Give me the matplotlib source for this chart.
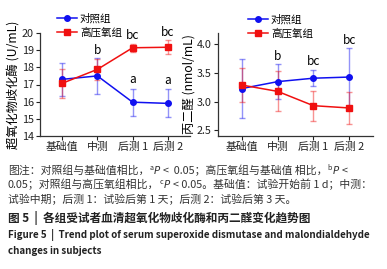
import matplotlib
matplotlib.use('Agg')
import matplotlib.pyplot as plt

plt.rcParams['font.family'] = ['Noto Sans CJK SC', 'DejaVu Sans']

# time points
stages = ['基础值', '中测', '后测 1', '后测 2']

# SOD (U/mL)
sod_ctrl = [17.3, 17.5, 15.97, 15.9]
sod_ctrl_err = [0.95, 1.05, 0.78, 0.81]
sod_hbo = [17.07, 17.88, 19.14, 19.17]
sod_hbo_err = [0.86, 0.63, 0.23, 0.4]
sod_marks_hbo = ['', 'b', 'bc', 'bc']
sod_marks_ctrl = ['', '', 'a', 'a']

# MDA (nmol/mL)
mda_ctrl = [3.23, 3.35, 3.41, 3.43]
mda_ctrl_err = [0.52, 0.3, 0.14, 0.5]
mda_hbo = [3.29, 3.18, 2.93, 2.89]
mda_hbo_err = [0.3, 0.35, 0.26, 0.28]
mda_marks = ['', 'b', 'bc', 'bc']

BLUE = '#1010f0'
RED = '#f01010'

fig = plt.figure(figsize=(3.87, 2.69), dpi=100)
W, H = 387, 269


def add_ax(x0, x1, y0, y1):
    return fig.add_axes([x0 / W, 1 - y1 / H, (x1 - x0) / W, (y1 - y0) / H])


def style(ax):
    for s in ['top', 'right']:
        ax.spines[s].set_visible(False)
    for s in ['left', 'bottom']:
        ax.spines[s].set_linewidth(0.9)
        ax.spines[s].set_color('#333333')
    ax.tick_params(axis='both', labelsize=7.8, length=3, width=0.8, pad=1.5,
                   colors='#222222')
    ax.set_xticks(range(len(stages)))
    ax.set_xticklabels(stages)


def draw(ax, y1, e1, y2, e2):
    x = range(len(stages))
    ax.errorbar(x, y1, yerr=e1, fmt='none', ecolor=BLUE, alpha=0.45,
                elinewidth=1.0, capsize=2.5, capthick=1.0)
    ax.errorbar(x, y2, yerr=e2, fmt='none', ecolor=RED, alpha=0.45,
                elinewidth=1.0, capsize=2.5, capthick=1.0)
    l1, = ax.plot(x, y1, '-o', color=BLUE, lw=1.1, ms=4, label='对照组')
    l2, = ax.plot(x, y2, '-s', color=RED, lw=1.1, ms=4, label='高压氧组')
    return l1, l2


# left: SOD
ax1 = add_ax(40, 190, 33, 136)
style(ax1)
h1 = draw(ax1, sod_ctrl, sod_ctrl_err, sod_hbo, sod_hbo_err)
ax1.set_xlim(-0.63, 3.63)
ax1.set_ylim(14, 20)
ax1.set_yticks(range(14, 21))
ax1.set_ylabel('超氧化物歧化酶 (U/mL)', fontsize=8.8, labelpad=1)
for i, m in enumerate(sod_marks_hbo):
    if m:
        ax1.text(i, sod_hbo[i] + sod_hbo_err[i] + 0.1, m, ha='center',
                 va='bottom', fontsize=8.5)
for i, m in enumerate(sod_marks_ctrl):
    if m:
        ax1.text(i, sod_ctrl[i] + sod_ctrl_err[i] + 0.15, m, ha='center',
                 va='bottom', fontsize=8.5)
ax1.legend(handles=h1, loc='center left', bbox_to_anchor=(52 / W, 1 - 25.5 / H),
           bbox_transform=fig.transFigure, frameon=False, fontsize=7.6,
           handlelength=1.9, handletextpad=0.25, labelspacing=0.35,
           borderpad=0)

# right: MDA
ax2 = add_ax(218, 373, 33, 136)
style(ax2)
h2 = draw(ax2, mda_ctrl, mda_ctrl_err, mda_hbo, mda_hbo_err)
ax2.set_xlim(-0.67, 3.67)
ax2.set_ylim(2.4, 4.2)
ax2.set_yticks([2.5, 3.0, 3.5, 4.0])
ax2.set_ylabel('丙二醛 (nmol/mL)', fontsize=8.8, labelpad=1)
for i, m in enumerate(mda_marks):
    if m:
        top = max(mda_ctrl[i] + mda_ctrl_err[i], mda_hbo[i] + mda_hbo_err[i])
        ax2.text(i, top + 0.03, m, ha='center', va='bottom', fontsize=8.5)
ax2.legend(handles=h2, loc='center left', bbox_to_anchor=(243 / W, 1 - 26.5 / H),
           bbox_transform=fig.transFigure, frameon=False, fontsize=7.6,
           handlelength=1.9, handletextpad=0.25, labelspacing=0.35,
           borderpad=0)

# caption: pieces are (text, kind, gap before in px)
note = [
    [('图注：对照组与基础值相比，', 'n', 0), ('a', 's', 0), ('P', 'i', 0),
     ('<  0.05；高压氧组与基础值 相比，', 'n', 3), ('b', 's', 0), ('P', 'i', 0),
     ('<', 'n', 3)],
    [('0.05；对照组与高压氧组相比，', 'n', 0), ('c', 's', 0), ('P', 'i', 0),
     ('< 0.05。基础值：试验开始前 1 d；中测：', 'n', 3)],
    [('试验中期；后测 1：试验后第 1 天；后测 2：试验后第 3 天。', 'n', 0)],
]
renderer = fig.canvas.get_renderer()
NOTE_FS = 7.8
for k, parts in enumerate(note):
    x = 8
    base = 174 + 14.5 * k
    for txt, kind, gap in parts:
        x += gap
        kw = dict(fontsize=NOTE_FS, color='#333333', va='baseline', ha='left')
        y = base
        if kind == 's':
            kw['fontsize'] = 5.2
            y = base - 4
        elif kind == 'i':
            kw['family'] = 'DejaVu Sans'
            kw['style'] = 'italic'
            kw['fontsize'] = 7.4
        t = fig.text(x / W, 1 - y / H, txt, **kw)
        x += t.get_window_extent(renderer).width + (0.5 if kind == 's' else 0)

fig.text(8 / W, 1 - 218 / H, '图 5  |  各组受试者血清超氧化物歧化酶和丙二醛变化趋势图',
         fontsize=8.4, color='#222222', va='center', ha='left',
         fontweight='bold')
fig.text(8 / W, 1 - 235 / H,
         'Figure 5  |  Trend plot of serum superoxide dismutase and malondialdehyde',
         fontsize=7.05, color='#222222', va='center', ha='left',
         fontweight='bold')
fig.text(8 / W, 1 - 251 / H, 'changes in subjects', fontsize=7.05,
         color='#222222', va='center', ha='left', fontweight='bold')

fig.savefig('out.png', dpi=100)
